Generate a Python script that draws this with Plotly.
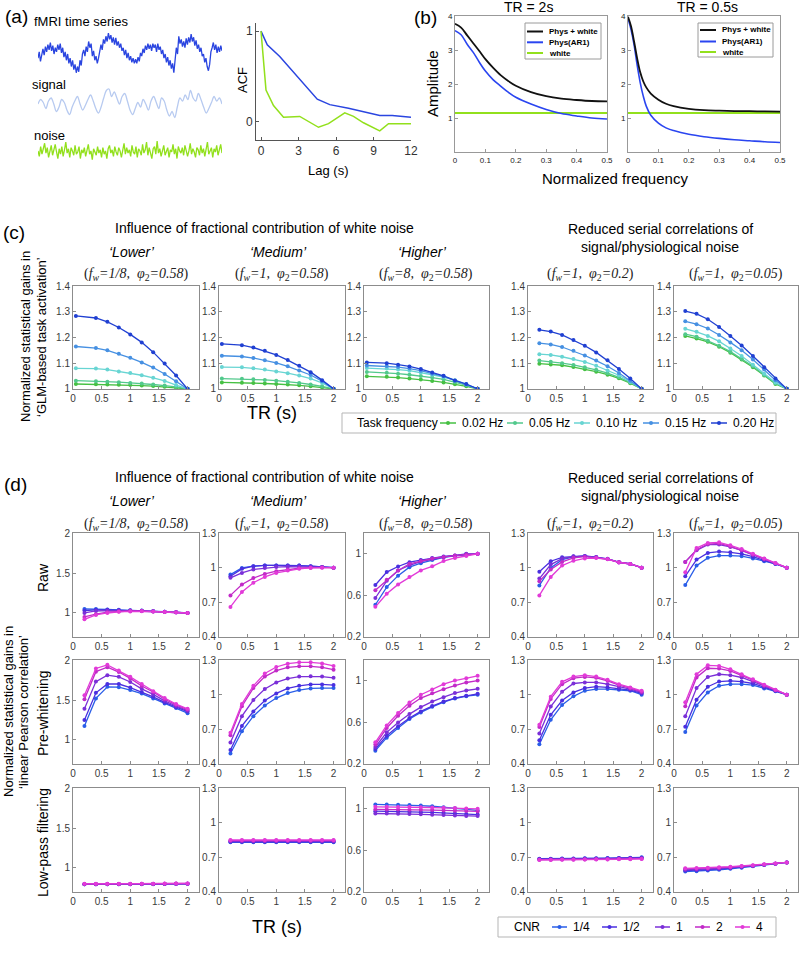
import plotly.graph_objects as go

W, H = 800, 958
SANS = "Liberation Sans, Arial, sans-serif"
SERIF = "Liberation Serif, Times New Roman, serif"

# ---------------- (a) data ----------------
fmri_series = [-0.2, 0.1, -0.35, 0.0, 0.25, -0.05, 0.35, 0.1, 0.45, 0.2,
               0.55, 0.15, 0.4, 0.0, 0.3, 0.1, 0.45, 0.2, 0.5, 0.05,
               0.3, -0.15, 0.1, -0.3, 0.0, -0.45, -0.2, -0.6, -0.3, -0.75,
               -0.5, -0.9, -0.6, -0.85, -0.3, -0.55, 0.0, 0.2, -0.1, 0.35,
               0.1, 0.6, 0.3, 0.5, -0.1, 0.15, -0.3, -0.1, -0.45, -0.2,
               0.1, 0.45, 0.2, 0.7, 0.5, 0.85, 0.6, 1.0, 0.7, 0.9,
               0.55, 0.8, 0.45, 0.77, 0.4, 0.6, 0.3, 0.5, 0.15, 0.3,
               -0.05, 0.2, -0.2, 0.05, -0.3, -0.1, -0.4, -0.2, -0.45, -0.25,
               -0.45, -0.15, -0.35, 0.05, -0.1, 0.25, 0.05, 0.4, 0.2, 0.5,
               0.25, 0.45, 0.15, 0.5, 0.3, 0.45, 0.1, 0.5, 0.2, 0.35,
               0.0, 0.2, -0.2, 0.0, -0.4, -0.15, -0.55, -0.3, -0.7, -0.45,
               -0.9, -0.3, 0.3, 0.0, 0.85, 0.5, 0.7, 0.35, 0.6, 0.3,
               0.75, 0.45, 0.8, 0.55, 0.95, 0.6, 0.8, 0.4, 0.65, 0.25,
               0.45, 0.1, 0.3, -0.1, 0.0, -0.4, -0.2, -0.6, -0.8, -0.5,
               0.1, 0.3, 0.55, 0.2, 0.45, 0.05, 0.35, 0.1, 0.4, 0.15]
signal_series = [0.0, 0.3, 0.1, -0.3, 0.2, 0.4, 0.0, -0.5, -0.2, 0.3,
                 0.1, -0.4, -0.7, -0.2, 0.2, 0.5, 0.0, -0.4, -0.1, 0.3,
                 0.6, 0.2, -0.3, -0.6, -0.2, 0.4, 0.9, 1.0, 0.5, 0.8,
                 0.4, 0.0, 0.5, 0.7, 0.2, -0.4, -0.7, -0.3, 0.1, -0.2,
                 0.3, 0.0, -0.4, 0.2, 0.5, 0.1, -0.3, 0.4, 0.2, -0.4,
                 -0.8, -0.5, -0.9, -0.2, 0.4, 0.2, 0.6, 0.3, 0.9, 0.4,
                 0.2, 0.7, 0.3, -0.2, -0.6, -0.3, 0.1, 0.5, 0.2, 0.4, 0.0]
noise_series = [0.1, -0.4, 0.5, -0.2, 0.3, 0.8, -0.1, 0.4, -0.5, 0.2,
                0.6, -0.3, 0.1, 0.7, 0.0, -0.6, 0.3, -0.2, 0.5, -0.4,
                0.2, 0.9, -0.1, 0.3, -0.5, 0.4, 0.1, -0.3, 0.6, -0.2,
                0.0, 0.5, -0.6, 0.2, -0.1, 0.4, -0.4, 0.3, 0.7, -0.2,
                0.1, -0.7, 0.3, 0.0, -0.3, 0.5, -0.1, 0.2, -0.5, 0.4,
                -0.2, 0.1, -0.6, 0.3, 0.6, -0.1, 0.2, -0.4, 0.5, 0.0,
                -0.3, 0.4, 0.1, -0.5, 0.3, 0.8, -0.2, 0.4, -0.1, 0.2,
                -0.4, 0.6, 0.0, -0.2, 0.5, -0.5, 0.3, 0.1, -0.3, 0.7,
                -0.1, 0.2, 0.9, -0.3, 0.4, 0.0, -0.6, 0.3, 0.5, -0.2,
                1.0, -0.1, 0.3, -0.4, 0.2, 0.6, -0.3, 0.1, 0.4, -0.5,
                0.2, 0.0, 0.7, -0.2, 0.3, -0.6, 0.5, 0.1, -0.1, 0.4,
                -0.3, 0.6, 0.2, -0.4, 0.1, 0.8, -0.2, 0.3, 0.0, -0.5,
                0.4, 0.2, -0.3, 0.6, -0.1, 0.3, -0.4, 0.5, 0.9, -0.2,
                0.1, 0.4, -0.5, 0.3, 0.0, 0.6, -0.3, 0.2, 0.7, -0.1]
acf_blue_lag = [0, 0.5, 1.5, 4.5, 5.5, 7, 9.5, 10.5, 12]
acf_blue = [1, 0.85, 0.72, 0.25, 0.19, 0.15, 0.07, 0.07, 0.05]
acf_green_lag = [0, 0.4, 1.0, 1.8, 3.1, 4.6, 5.4, 6.7, 7.4, 8.2, 9.5, 10.2, 12]
acf_green = [1, 0.35, 0.18, 0.05, 0.06, -0.06, -0.02, 0.1, 0.06, -0.01, -0.1, -0.02, -0.02]
acf_xticks = [0, 3, 6, 9, 12]

# ---------------- (b) data ----------------
freq_tr2 = [0, 0.02, 0.04, 0.06, 0.08, 0.1, 0.125, 0.15, 0.175, 0.2, 0.25, 0.3, 0.35, 0.4, 0.45, 0.5]
physwhite_tr2 = [3.77, 3.66, 3.43, 3.2, 2.97, 2.73, 2.48, 2.26, 2.09, 1.95, 1.76, 1.64, 1.57, 1.53, 1.5, 1.49]
physar1_tr2 = [3.57, 3.45, 3.17, 2.93, 2.64, 2.38, 2.13, 1.94, 1.76, 1.61, 1.41, 1.25, 1.13, 1.06, 1.0, 0.97]
freq_tr05 = [0, 0.01, 0.02, 0.03, 0.04, 0.05, 0.06, 0.075, 0.1, 0.125, 0.15, 0.2, 0.25, 0.3, 0.35, 0.4, 0.45, 0.5]
physwhite_tr05 = [3.98, 3.7, 3.25, 2.76, 2.35, 2.08, 1.9, 1.72, 1.54, 1.42, 1.35, 1.27, 1.23, 1.215, 1.205, 1.2, 1.195, 1.19]
physar1_tr05 = [3.93, 3.6, 3.15, 2.56, 2.05, 1.65, 1.35, 1.08, 0.85, 0.71, 0.63, 0.52, 0.45, 0.4, 0.36, 0.33, 0.3, 0.28]
white_freq = [0, 0.5]
white_level = [1.15, 1.15]
b_names = ["Phys + white", "Phys(AR1)", "white"]

# ---------------- (c) data ----------------
tr_c_first = [0.05, 0.4, 0.6, 0.8, 1.0, 1.2, 1.4, 1.6, 1.8, 2.0]
tr_grid = [0.2, 0.4, 0.6, 0.8, 1.0, 1.2, 1.4, 1.6, 1.8, 2.0]
task_freqs = ["0.02 Hz", "0.05 Hz", "0.10 Hz", "0.15 Hz", "0.20 Hz"]
c_lower = [[1.019, 1.018, 1.017, 1.016, 1.015, 1.013, 1.011, 1.008, 1.005, 1.0],
           [1.032, 1.030, 1.028, 1.026, 1.023, 1.021, 1.017, 1.013, 1.008, 1.0],
           [1.08, 1.079, 1.075, 1.068, 1.062, 1.053, 1.043, 1.031, 1.015, 1.0],
           [1.165, 1.159, 1.15, 1.137, 1.121, 1.103, 1.083, 1.058, 1.03, 1.0],
           [1.284, 1.276, 1.261, 1.239, 1.212, 1.181, 1.143, 1.099, 1.052, 1.0]]
c_medium = [[1.025, 1.024, 1.023, 1.021, 1.019, 1.017, 1.014, 1.010, 1.006, 1.0],
            [1.040, 1.039, 1.037, 1.035, 1.032, 1.028, 1.023, 1.017, 1.010, 1.0],
            [1.085, 1.084, 1.08, 1.075, 1.068, 1.061, 1.052, 1.04, 1.023, 1.0],
            [1.129, 1.126, 1.12, 1.111, 1.101, 1.088, 1.072, 1.054, 1.03, 1.0],
            [1.175, 1.17, 1.161, 1.148, 1.132, 1.112, 1.09, 1.065, 1.034, 1.0]]
c_higher = [[1.049, 1.047, 1.044, 1.040, 1.036, 1.031, 1.025, 1.018, 1.010, 1.0],
            [1.066, 1.063, 1.059, 1.055, 1.050, 1.044, 1.037, 1.027, 1.015, 1.0],
            [1.081, 1.079, 1.075, 1.071, 1.064, 1.055, 1.046, 1.034, 1.018, 1.0],
            [1.091, 1.089, 1.085, 1.079, 1.071, 1.059, 1.049, 1.032, 1.017, 1.0],
            [1.103, 1.1, 1.094, 1.0875, 1.077, 1.064, 1.051, 1.033, 1.019, 1.0]]
c_phi02 = [[1.098, 1.095, 1.092, 1.085, 1.076, 1.067, 1.055, 1.041, 1.022, 1.0],
           [1.11, 1.106, 1.1, 1.093, 1.084, 1.074, 1.061, 1.045, 1.025, 1.0],
           [1.135, 1.132, 1.125, 1.116, 1.105, 1.09, 1.072, 1.053, 1.028, 1.0],
           [1.178, 1.173, 1.163, 1.148, 1.13, 1.11, 1.088, 1.062, 1.032, 1.0],
           [1.23, 1.223, 1.21, 1.19, 1.168, 1.142, 1.111, 1.077, 1.04, 1.0]]
c_phi005 = [[1.206, 1.196, 1.183, 1.164, 1.141, 1.114, 1.084, 1.052, 1.019, 1.0],
            [1.213, 1.203, 1.187, 1.168, 1.145, 1.117, 1.088, 1.054, 1.022, 1.0],
            [1.234, 1.222, 1.206, 1.185, 1.157, 1.128, 1.094, 1.059, 1.025, 1.0],
            [1.263, 1.252, 1.235, 1.21, 1.181, 1.15, 1.114, 1.075, 1.034, 1.0],
            [1.303, 1.292, 1.271, 1.241, 1.206, 1.169, 1.128, 1.084, 1.04, 1.0]]

# ---------------- (d) data (order: CNR 1/4, 1/2, 1, 2, 4) ----------------
cnr_names = ["1/4", "1/2", "1", "2", "4"]
d_raw_lower = [[1.05, 1.05, 1.045, 1.04, 1.035, 1.03, 1.025, 1.015, 1.01, 1.0],
               [1.03, 1.04, 1.04, 1.035, 1.03, 1.028, 1.022, 1.015, 1.008, 1.0],
               [1.0, 1.025, 1.03, 1.03, 1.03, 1.027, 1.02, 1.014, 1.008, 1.0],
               [0.95, 0.985, 1.01, 1.02, 1.025, 1.025, 1.02, 1.013, 1.008, 1.0],
               [0.92, 0.975, 1.0, 1.015, 1.02, 1.022, 1.018, 1.012, 1.007, 1.0]]
d_raw_medium = [[0.94, 0.998, 1.013, 1.02, 1.02, 1.02, 1.018, 1.013, 1.007, 1.0],
                [0.926, 0.99, 1.013, 1.02, 1.02, 1.02, 1.018, 1.013, 1.007, 1.0],
                [0.912, 0.955, 0.985, 0.998, 1.005, 1.01, 1.01, 1.008, 1.005, 1.0],
                [0.76, 0.855, 0.91, 0.946, 0.97, 0.985, 0.995, 1.0, 1.002, 1.0],
                [0.66, 0.79, 0.87, 0.92, 0.955, 0.975, 0.99, 0.998, 1.0, 1.0]]
d_raw_higher = [[0.51, 0.68, 0.79, 0.872, 0.91, 0.94, 0.965, 0.98, 0.99, 1.0],
                [0.70, 0.824, 0.878, 0.92, 0.94, 0.96, 0.975, 0.985, 1.0, 1.0],
                [0.575, 0.74, 0.84, 0.89, 0.925, 0.95, 0.968, 0.982, 0.992, 1.0],
                [0.65, 0.75, 0.84, 0.904, 0.93, 0.955, 0.97, 0.985, 0.995, 1.0],
                [0.49, 0.616, 0.706, 0.776, 0.84, 0.88, 0.93, 0.96, 0.98, 1.0]]
d_raw_phi02 = [[0.846, 0.998, 1.07, 1.094, 1.1, 1.09, 1.075, 1.047, 1.032, 1.0],
               [0.964, 1.056, 1.09, 1.099, 1.102, 1.092, 1.077, 1.048, 1.033, 1.0],
               [0.906, 1.027, 1.079, 1.096, 1.1, 1.09, 1.076, 1.047, 1.033, 1.0],
               [0.883, 0.984, 1.05, 1.085, 1.095, 1.088, 1.075, 1.047, 1.032, 1.0],
               [0.76, 0.92, 1.018, 1.06, 1.08, 1.083, 1.073, 1.046, 1.032, 1.0]]
d_raw_phi005 = [[0.849, 1.018, 1.085, 1.105, 1.105, 1.1, 1.08, 1.056, 1.033, 1.0],
                [0.926, 1.07, 1.128, 1.14, 1.133, 1.12, 1.095, 1.065, 1.035, 1.0],
                [1.05, 1.15, 1.2, 1.2, 1.18, 1.15, 1.11, 1.075, 1.037, 1.0],
                [1.05, 1.156, 1.205, 1.21, 1.185, 1.153, 1.115, 1.077, 1.038, 1.0],
                [0.96, 1.17, 1.214, 1.22, 1.194, 1.162, 1.12, 1.08, 1.04, 1.0]]
d_pw_lower = [[1.175, 1.52, 1.665, 1.66, 1.625, 1.58, 1.52, 1.455, 1.4, 1.335],
              [1.25, 1.59, 1.70, 1.70, 1.655, 1.6, 1.54, 1.47, 1.41, 1.355],
              [1.39, 1.73, 1.81, 1.79, 1.725, 1.64, 1.57, 1.49, 1.425, 1.367],
              [1.51, 1.855, 1.91, 1.85, 1.77, 1.675, 1.6, 1.51, 1.44, 1.38],
              [1.56, 1.895, 1.94, 1.87, 1.79, 1.70, 1.61, 1.525, 1.45, 1.39]]
d_pw_medium = [[0.491, 0.683, 0.814, 0.906, 0.971, 1.014, 1.04, 1.054, 1.057, 1.057],
               [0.52, 0.729, 0.854, 0.949, 1.011, 1.054, 1.077, 1.089, 1.089, 1.083],
               [0.586, 0.814, 0.954, 1.049, 1.106, 1.14, 1.157, 1.16, 1.157, 1.146],
               [0.649, 0.9, 1.057, 1.157, 1.209, 1.237, 1.246, 1.246, 1.237, 1.217],
               [0.671, 0.92, 1.077, 1.183, 1.24, 1.269, 1.28, 1.28, 1.271, 1.249]]
d_pw_higher = [[0.328, 0.453, 0.546, 0.632, 0.696, 0.75, 0.795, 0.83, 0.852, 0.865],
               [0.344, 0.472, 0.562, 0.642, 0.706, 0.757, 0.8, 0.834, 0.856, 0.875],
               [0.363, 0.504, 0.6, 0.68, 0.747, 0.8, 0.843, 0.882, 0.907, 0.923],
               [0.386, 0.546, 0.664, 0.76, 0.834, 0.88, 0.92, 0.955, 0.984, 1.003],
               [0.408, 0.571, 0.69, 0.792, 0.866, 0.917, 0.968, 1.003, 1.026, 1.048]]
d_pw_phi02 = [[0.571, 0.783, 0.911, 0.986, 1.034, 1.049, 1.049, 1.043, 1.034, 1.0],
              [0.606, 0.826, 0.949, 1.02, 1.057, 1.069, 1.063, 1.051, 1.04, 1.011],
              [0.663, 0.897, 1.026, 1.097, 1.106, 1.106, 1.091, 1.069, 1.049, 1.02],
              [0.72, 0.963, 1.091, 1.143, 1.154, 1.146, 1.12, 1.083, 1.057, 1.026],
              [0.74, 0.983, 1.111, 1.157, 1.169, 1.157, 1.129, 1.091, 1.063, 1.034]]
d_pw_phi005 = [[0.677, 0.906, 1.02, 1.077, 1.091, 1.091, 1.083, 1.054, 1.029, 1.0],
               [0.723, 0.957, 1.069, 1.114, 1.12, 1.114, 1.097, 1.063, 1.034, 1.0],
               [0.814, 1.057, 1.154, 1.177, 1.169, 1.149, 1.114, 1.074, 1.037, 1.0],
               [0.9, 1.149, 1.229, 1.226, 1.206, 1.169, 1.126, 1.08, 1.04, 1.0],
               [0.934, 1.177, 1.254, 1.249, 1.22, 1.177, 1.134, 1.086, 1.043, 1.0]]
d_lp_lower = [[0.795, 0.795, 0.795, 0.796, 0.796, 0.797, 0.798, 0.8, 0.801, 0.802],
              [0.797, 0.797, 0.797, 0.798, 0.798, 0.799, 0.8, 0.801, 0.802, 0.803],
              [0.798, 0.798, 0.799, 0.799, 0.8, 0.8, 0.801, 0.802, 0.803, 0.804],
              [0.8, 0.8, 0.8, 0.801, 0.801, 0.802, 0.803, 0.804, 0.805, 0.806],
              [0.802, 0.802, 0.802, 0.802, 0.803, 0.803, 0.804, 0.805, 0.806, 0.807]]
d_lp_medium = [[0.83, 0.83, 0.83, 0.83, 0.83, 0.83, 0.83, 0.83, 0.83, 0.83],
               [0.835, 0.835, 0.835, 0.835, 0.835, 0.835, 0.835, 0.835, 0.835, 0.835],
               [0.84, 0.84, 0.84, 0.84, 0.84, 0.84, 0.84, 0.84, 0.84, 0.84],
               [0.845, 0.845, 0.845, 0.845, 0.845, 0.845, 0.845, 0.845, 0.845, 0.845],
               [0.85, 0.85, 0.85, 0.85, 0.85, 0.85, 0.85, 0.85, 0.85, 0.85]]
d_lp_higher = [[1.042, 1.041, 1.039, 1.036, 1.031, 1.025, 1.015, 1.005, 0.995, 0.985],
               [0.977, 0.976, 0.975, 0.972, 0.968, 0.965, 0.96, 0.955, 0.95, 0.945],
               [0.955, 0.955, 0.953, 0.95, 0.947, 0.944, 0.94, 0.936, 0.932, 0.93],
               [0.994, 0.994, 0.993, 0.991, 0.99, 0.988, 0.985, 0.982, 0.978, 0.975],
               [1.019, 1.019, 1.018, 1.017, 1.015, 1.013, 1.01, 1.007, 1.004, 1.0]]
d_lp_phi02 = [[0.688, 0.688, 0.689, 0.69, 0.691, 0.692, 0.693, 0.695, 0.697, 0.7],
              [0.686, 0.686, 0.687, 0.688, 0.689, 0.69, 0.691, 0.693, 0.695, 0.697],
              [0.683, 0.683, 0.684, 0.685, 0.686, 0.687, 0.688, 0.69, 0.691, 0.693],
              [0.679, 0.679, 0.68, 0.681, 0.682, 0.683, 0.684, 0.685, 0.686, 0.688],
              [0.677, 0.677, 0.678, 0.679, 0.68, 0.681, 0.682, 0.683, 0.684, 0.686]]
d_lp_phi005 = [[0.577, 0.58, 0.585, 0.592, 0.6, 0.61, 0.622, 0.633, 0.644, 0.656],
               [0.585, 0.588, 0.592, 0.598, 0.606, 0.615, 0.625, 0.635, 0.644, 0.656],
               [0.592, 0.594, 0.598, 0.603, 0.61, 0.618, 0.627, 0.636, 0.645, 0.656],
               [0.6, 0.602, 0.605, 0.61, 0.615, 0.622, 0.63, 0.638, 0.646, 0.656],
               [0.605, 0.607, 0.61, 0.614, 0.619, 0.625, 0.632, 0.639, 0.647, 0.656]]

# ---------------- styles ----------------
freq_colors = ["#46c043", "#52c98c", "#68d5d3", "#4690e2", "#2040d2"]
cnr_colors = ["#2a5ee8", "#4a2fe0", "#7b2fd8", "#c22ac8", "#e23ad8"]
b_colors = ["#111111", "#2a45f0", "#92e01c"]
TICKGREY = "#8c8c8c"

layout = {}
traces = []
anns = []
shapes = []


def px_x(x):
    return x / W


def px_y(y):
    return 1 - y / H


def add_axes(n, xpx, ypx, xr, yr, xkw, ykw):
    k = "" if n == 1 else str(n)
    layout["xaxis" + k] = dict(domain=[px_x(xpx[0]), px_x(xpx[1])], anchor="y" + k, range=xr,
                               showgrid=False, zeroline=False, **xkw)
    layout["yaxis" + k] = dict(domain=[px_y(ypx[1]), px_y(ypx[0])], anchor="x" + k, range=yr,
                               showgrid=False, zeroline=False, **ykw)
    return "x" + k, "y" + k


def txt(x, y, s, size=13, angle=0, family=SANS, xanchor="center", color="black"):
    anns.append(dict(x=px_x(x), y=px_y(y), xref="paper", yref="paper", text=s, showarrow=False,
                     font=dict(size=size, family=family, color=color), textangle=angle,
                     xanchor=xanchor, yanchor="middle"))


def legend_box(x0, y0, x1, y1, color="#b5b5b5"):
    shapes.append(dict(type="rect", xref="paper", yref="paper", x0=px_x(x0), x1=px_x(x1),
                       y0=px_y(y1), y1=px_y(y0), line=dict(color=color, width=1),
                       fillcolor="white", layer="above"))


def legend_item(xs, y, seglen, color, label, size, width=1.5, marker=True, weight="normal"):
    shapes.append(dict(type="line", xref="paper", yref="paper", x0=px_x(xs), x1=px_x(xs + seglen),
                       y0=px_y(y), y1=px_y(y), line=dict(color=color, width=width), layer="above"))
    if marker:
        cx = px_x(xs + seglen / 2)
        shapes.append(dict(type="circle", xref="paper", yref="paper", xsizemode="pixel",
                           ysizemode="pixel", xanchor=cx, yanchor=px_y(y), x0=-2, x1=2, y0=-2, y1=2,
                           fillcolor=color, line=dict(color=color, width=0), layer="above"))
    lab = "<b>" + label + "</b>" if weight == "bold" else label
    anns.append(dict(x=px_x(xs + seglen + 4), y=px_y(y), xref="paper", yref="paper", text=lab,
                     showarrow=False, font=dict(size=size, family=SANS, color="black"),
                     xanchor="left", yanchor="middle"))


hidden = dict(visible=False)

# ---------------- (a) ----------------
xa, ya = add_axes(1, (38, 222), (30, 78), [0, len(fmri_series) - 1], [-1.15, 1.15], hidden, hidden)
traces.append(go.Scatter(x=list(range(len(fmri_series))), y=fmri_series, xaxis=xa, yaxis=ya,
                         mode="lines", line=dict(color="#2a45e0", width=1.3), showlegend=False))
xa, ya = add_axes(2, (38, 222), (86, 122), [0, len(signal_series) - 1], [-1.2, 1.2], hidden, hidden)
traces.append(go.Scatter(x=list(range(len(signal_series))), y=signal_series, xaxis=xa, yaxis=ya,
                         mode="lines", line=dict(color="#b7caf0", width=1.3, shape="spline"),
                         showlegend=False))
xa, ya = add_axes(3, (38, 222), (140, 164), [0, len(noise_series) - 1], [-1.1, 1.1], hidden, hidden)
traces.append(go.Scatter(x=list(range(len(noise_series))), y=noise_series, xaxis=xa, yaxis=ya,
                         mode="lines", line=dict(color="#92e01c", width=1.3), showlegend=False))

acf_ax = dict(showline=True, mirror=False, linecolor="#555", linewidth=1, ticks="inside", ticklen=3,
              tickcolor="#555", tickfont=dict(size=12, color="#333", family=SANS),
              ticklabeloverflow="allow")
xa, ya = add_axes(4, (256, 411), (23, 140), [-0.4, 12], [-0.2, 1.09],
                  dict(tickvals=acf_xticks, **acf_ax), dict(tickvals=[0, 1], **acf_ax))
traces.append(go.Scatter(x=acf_blue_lag, y=acf_blue, xaxis=xa, yaxis=ya, mode="lines",
                         line=dict(color="#2a45e0", width=1.5), showlegend=False))
traces.append(go.Scatter(x=acf_green_lag, y=acf_green, xaxis=xa, yaxis=ya, mode="lines",
                         line=dict(color="#92e01c", width=1.5), showlegend=False))

txt(16, 17, "(a)", size=19)
txt(32, 21, "fMRI time series", size=13, xanchor="left")
txt(30, 85, "signal", size=13, xanchor="left")
txt(32, 136, "noise", size=13, xanchor="left")
txt(242, 80, "ACF", size=13, angle=-90)
txt(328, 170, "Lag (s)", size=13)

# ---------------- (b) ----------------
b_ax = dict(showline=True, mirror=True, linecolor="#999", linewidth=1, ticks="inside", ticklen=3,
            tickcolor="#999", tickfont=dict(size=8, color="#222", family=SANS),
            ticklabeloverflow="allow")
for n, xpx, fr, pw, ar in [(5, (455, 607), freq_tr2, physwhite_tr2, physar1_tr2),
                           (6, (628, 780), freq_tr05, physwhite_tr05, physar1_tr05)]:
    xa, ya = add_axes(n, xpx, (16, 152), [0, 0.5], [0, 4],
                      dict(tickvals=[0, 0.1, 0.2, 0.3, 0.4, 0.5], **b_ax),
                      dict(tickvals=[1, 2, 3, 4], **b_ax))
    traces.append(go.Scatter(x=white_freq, y=white_level, xaxis=xa, yaxis=ya, mode="lines",
                             line=dict(color=b_colors[2], width=2), name=b_names[2], showlegend=False))
    traces.append(go.Scatter(x=fr, y=ar, xaxis=xa, yaxis=ya, mode="lines",
                             line=dict(color=b_colors[1], width=1.6, shape="spline"), name=b_names[1],
                             showlegend=False))
    traces.append(go.Scatter(x=fr, y=pw, xaxis=xa, yaxis=ya, mode="lines",
                             line=dict(color=b_colors[0], width=1.8, shape="spline"), name=b_names[0],
                             showlegend=False))

for (bx0, by0, bx1, by1, lx, ys) in [(525, 23, 601, 59, 527, [31.5, 42.3, 53]),
                                     (698, 23, 773, 57, 700, [30, 41.5, 52])]:
    legend_box(bx0, by0, bx1, by1, color="#9a9a9a")
    for i in range(3):
        legend_item(lx, ys[i], 16, b_colors[i], b_names[i], 8, width=2, marker=False, weight="bold")

txt(425, 18, "(b)", size=19)
txt(528, 7, "TR = 2s", size=14)
txt(707, 7, "TR = 0.5s", size=14)
txt(433, 84, "Amplitude", size=15, angle=-90)
txt(615, 178, "Normalized frequency", size=15)

# ---------------- (c) ----------------
cols_px = [(73, 199), (219, 345), (364, 489), (528, 653), (674, 798)]
grid_ax = dict(showline=True, mirror=True, linecolor=TICKGREY, linewidth=1, ticks="inside", ticklen=3,
               tickcolor=TICKGREY, tickfont=dict(size=10, color="#3a3a3a", family=SANS),
               ticklabeloverflow="allow")
x_ticks = [0, 0.5, 1, 1.5, 2]
c_sets = [(c_lower, tr_c_first), (c_medium, tr_c_first), (c_higher, tr_c_first),
          (c_phi02, tr_grid), (c_phi005, tr_grid)]
n = 7
for ci, (data, trs) in enumerate(c_sets):
    xa, ya = add_axes(n, cols_px[ci], (286, 389), [0, 2.2], [0.9995, 1.4005],
                      dict(tickvals=x_ticks, **grid_ax),
                      dict(tickvals=[1, 1.1, 1.2, 1.3, 1.4], **grid_ax))
    for k, series in enumerate(data):
        traces.append(go.Scatter(x=trs, y=series, xaxis=xa, yaxis=ya, mode="lines+markers",
                                 line=dict(color=freq_colors[k], width=1.3),
                                 marker=dict(color=freq_colors[k], size=4),
                                 name=task_freqs[k], showlegend=False))
    n += 1

titles_top = ["‘Lower’", "‘Medium’", "‘Higher’"]
formulas = ["(<i>f</i><sub><i>w</i></sub><i>=1/8,  φ</i><sub>2</sub><i>=0.58</i>)",
            "(<i>f</i><sub><i>w</i></sub><i>=1,  φ</i><sub>2</sub><i>=0.58</i>)",
            "(<i>f</i><sub><i>w</i></sub><i>=8,  φ</i><sub>2</sub><i>=0.58</i>)",
            "(<i>f</i><sub><i>w</i></sub><i>=1,  φ</i><sub>2</sub><i>=0.2</i>)",
            "(<i>f</i><sub><i>w</i></sub><i>=1,  φ</i><sub>2</sub><i>=0.05</i>)"]


def header(y0):
    txt(264, y0, "Influence of fractional contribution of white noise", size=14)
    txt(660, y0 + 1, "Reduced serial correlations of", size=14)
    txt(660, y0 + 19, "signal/physiological noise", size=14)
    for i, t in enumerate(titles_top):
        txt((cols_px[i][0] + cols_px[i][1]) / 2 - 4, y0 + 24, "<i>" + t + "</i>", size=14)
    for i, f in enumerate(formulas):
        txt((cols_px[i][0] + cols_px[i][1]) / 2, y0 + 47, f, size=14, family=SERIF, color="#222")


txt(14, 232, "(c)", size=19)
header(228)
txt(25, 337, "Normalized statistical gains in", size=13, angle=-90)
txt(41, 337, "‘GLM-based task activation’", size=13, angle=-90)
txt(272, 413, "TR (s)", size=18)

legend_box(342, 413, 776, 433)
txt(355, 423, "Task frequency", size=12, xanchor="left")
for i, xs in enumerate([440, 507, 574, 643, 711]):
    legend_item(xs, 423, 16, freq_colors[i], task_freqs[i], 12, width=1.5)

# ---------------- (d) ----------------
rows_px = [(533, 637), (660, 764), (788, 892)]
d_rows = [[d_raw_lower, d_raw_medium, d_raw_higher, d_raw_phi02, d_raw_phi005],
          [d_pw_lower, d_pw_medium, d_pw_higher, d_pw_phi02, d_pw_phi005],
          [d_lp_lower, d_lp_medium, d_lp_higher, d_lp_phi02, d_lp_phi005]]
col_yr = [([0.7, 2.0], [1, 1.5, 2]), ([0.4, 1.3], [0.4, 0.7, 1, 1.3]), ([0.2, 1.2], [0.2, 0.6, 1]),
          ([0.4, 1.3], [0.4, 0.7, 1, 1.3]), ([0.4, 1.3], [0.4, 0.7, 1, 1.3])]
for ri, row in enumerate(d_rows):
    for ci, data in enumerate(row):
        yr, yt = col_yr[ci]
        xa, ya = add_axes(n, cols_px[ci], rows_px[ri], [0, 2.2], [yr[0] - 0.0005, yr[1] + 0.0005],
                          dict(tickvals=x_ticks, **grid_ax), dict(tickvals=yt, **grid_ax))
        for k, series in enumerate(data):
            traces.append(go.Scatter(x=tr_grid, y=series, xaxis=xa, yaxis=ya, mode="lines+markers",
                                     line=dict(color=cnr_colors[k], width=1.3),
                                     marker=dict(color=cnr_colors[k], size=4),
                                     name=cnr_names[k], showlegend=False))
        n += 1

txt(15, 485, "(d)", size=19)
header(477)
txt(43, 578, "Raw", size=14, angle=-90)
txt(43, 713, "Pre-whitening", size=14, angle=-90)
txt(43, 843, "Low-pass filtering", size=14, angle=-90)
txt(8, 712, "Normalized statistical gains in", size=13, angle=-90)
txt(23, 712, "‘linear Pearson correlation’", size=13, angle=-90)
txt(277, 927, "TR (s)", size=18)

legend_box(498, 917, 776, 937)
txt(512, 927, "CNR", size=12, xanchor="left")
for i, xs in enumerate([552, 602, 655, 695, 735]):
    legend_item(xs, 927, 15, cnr_colors[i], cnr_names[i], 12, width=1.5)

fig = go.Figure(data=traces)
fig.update_layout(width=W, height=H, margin=dict(l=0, r=0, t=0, b=0, autoexpand=False),
                  paper_bgcolor="white", plot_bgcolor="white", annotations=anns, shapes=shapes,
                  showlegend=False, hovermode=False, font=dict(family=SANS), **layout)
fig.write_html("out.html", config={"displayModeBar": False, "staticPlot": True},
               post_script="document.body.style.margin='0';document.body.style.padding='0';")
